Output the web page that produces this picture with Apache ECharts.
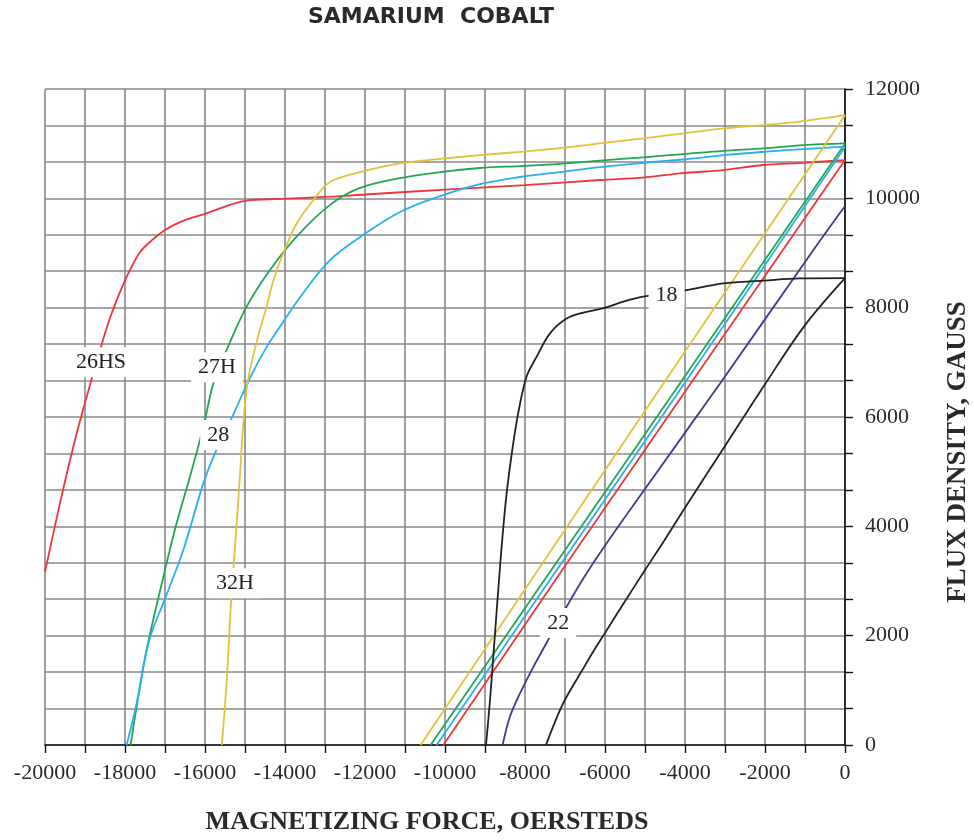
<!DOCTYPE html>
<html>
<head>
<meta charset="utf-8">
<script src="https://cdn.jsdelivr.net/npm/echarts@6/dist/echarts.min.js"></script>
<style>
  html, body { margin: 0; padding: 0; background: #fff; }
  #chart { width: 974px; height: 840px; }
</style>
</head>
<body>
<div id="chart"></div>
<script>
// Demagnetization curves for samarium cobalt grades, [H (Oe), B (G)].
// Intrinsic curves (upper, knee-shaped)
const grade26HS_intrinsic = [[-20000,3165],[-19625,4425],[-19250,5580],[-18875,6585],[-18625,7225],[-18375,7810],[-18125,8285],[-17875,8690],[-17625,9015],[-17325,9235],[-17000,9420],[-16625,9565],[-15950,9730],[-15375,9880],[-14960,9960],[-14125,9990],[-12875,10030],[-12000,10070],[-10000,10160],[-8000,10240],[-6125,10335],[-5050,10380],[-4050,10460],[-3050,10517],[-2050,10610],[-1050,10650],[0,10700]];
const grade27H_intrinsic = [[-17860,0],[-17710,700],[-17460,1740],[-17040,3080],[-16710,4055],[-16375,4910],[-16040,5820],[-15790,6615],[-15460,7225],[-14960,8020],[-14375,8690],[-13710,9300],[-12875,9880],[-12125,10190],[-11125,10370],[-10125,10480],[-9125,10555],[-8125,10590],[-7125,10630],[-6125,10690],[-5040,10750],[-4040,10810],[-3040,10870],[-2040,10915],[-1040,10975],[0,11005]];
const grade28_intrinsic = [[-17960,0],[-17710,760],[-17400,1900],[-16960,2750],[-16540,3570],[-16040,4790],[-15750,5335],[-15375,5910],[-14875,6715],[-14475,7260],[-14050,7735],[-13550,8265],[-12875,8870],[-12125,9290],[-11125,9750],[-10125,10040],[-9125,10260],[-8125,10390],[-7125,10480],[-6125,10570],[-5040,10650],[-4040,10710],[-3040,10790],[-2040,10850],[-1040,10900],[0,10945]];
const grade32H_intrinsic = [[-15580,0],[-15460,1130],[-15350,2600],[-15280,3320],[-15150,4660],[-15030,6000],[-14920,6700],[-14700,7400],[-14460,8020],[-14290,8500],[-14040,9000],[-13710,9540],[-13290,9970],[-12875,10300],[-12125,10480],[-11125,10640],[-10125,10720],[-9125,10790],[-8125,10850],[-7125,10920],[-6125,11005],[-5040,11097],[-4040,11188],[-3040,11280],[-2040,11340],[-1375,11383],[0,11523]];
const grade18_intrinsic = [[-8975,0],[-8875,820],[-8750,2040],[-8625,3260],[-8540,4000],[-8460,4600],[-8330,5335],[-8170,6070],[-7960,6740],[-7710,7100],[-7375,7530],[-6960,7800],[-6540,7910],[-6040,7990],[-5540,8110],[-5040,8200],[-3960,8320],[-3040,8445],[-2040,8495],[-1125,8535],[0,8540]];

// Normal curves (lower, nearly straight)
const grade26HS_normal = [[-10040,0],[-6958,3320],[0,10700]];
const grade27H_normal = [[-10360,0],[-4042,6706],[0,11000]];
const grade28_normal = [[-10210,0],[-4540,6050],[0,10940]];
const grade32H_normal = [[-10610,0],[-5042,6067],[0,11520]];
const grade22_normal = [[-8560,0],[-8375,520],[-8125,945],[-7790,1430],[-7460,1870],[-6960,2530],[-6460,3140],[-5960,3690],[-5375,4300],[-3040,6700],[-790,9055],[0,9860]];
const grade18_normal = [[-7475,0],[-7300,330],[-7100,680],[-6900,960],[-6600,1330],[-6300,1700],[-6000,2050],[-5500,2630],[-5000,3200],[-4500,3760],[-4000,4340],[-3000,5470],[-2000,6600],[-1000,7680],[0,8540]];

// Grade names and where each name sits along its curve, [H, B]
const gradeNames = ['26HS', '27H', '28', '32H', '22', '18'];
const nameAnchors = [[-18600,7000],[-15700,6910],[-15670,5670],[-15250,2960],[-7170,2230],[-4460,8230]];

const colors = {
  '26HS': '#f0343a',
  '27H': '#22a650',
  '28': '#28b0ee',
  '32H': '#e3c23a',
  '22': '#3c3c98',
  '18': '#222222'
};

const curves = [
  { grade: '26HS', data: grade26HS_intrinsic, named: true },
  { grade: '26HS', data: grade26HS_normal },
  { grade: '27H', data: grade27H_intrinsic, named: true },
  { grade: '27H', data: grade27H_normal },
  { grade: '28', data: grade28_intrinsic, named: true },
  { grade: '28', data: grade28_normal },
  { grade: '32H', data: grade32H_intrinsic, named: true },
  { grade: '32H', data: grade32H_normal },
  { grade: '22', data: grade22_normal, named: true },
  { grade: '18', data: grade18_intrinsic, named: true },
  { grade: '18', data: grade18_normal }
];

const serif = '"Liberation Serif", "Times New Roman", serif';

const series = curves.map(c => {
  const s = {
    type: 'line',
    name: c.grade,
    data: c.data,
    smooth: 0.35,
    symbol: 'none',
    lineStyle: { color: colors[c.grade], width: 1.8 },
    itemStyle: { color: colors[c.grade] },
    silent: true,
    z: 3
  };
  if (c.named) {
    const i = gradeNames.indexOf(c.grade);
    s.markPoint = {
      silent: true,
      symbol: 'rect',
      symbolSize: 1,
      itemStyle: { color: 'rgba(0,0,0,0)' },
      label: {
        show: true,
        position: 'inside',
        formatter: c.grade,
        fontFamily: serif,
        fontSize: 22,
        color: '#222',
        backgroundColor: '#fff',
        padding: [4, 7, 4, 7]
      },
      data: [{ coord: nameAnchors[i], name: c.grade }]
    };
  }
  return s;
});

const gridLine = { show: true, lineStyle: { color: '#888888', width: 1.6 } };
const plainNumber = v => String(Math.round(v));

const chart = echarts.init(document.getElementById('chart'));
chart.setOption({
  animation: false,
  backgroundColor: '#fff',
  grid: { left: 45, right: 129, top: 89, bottom: 95, containLabel: false },
  xAxis: {
    type: 'value',
    min: -20000,
    max: 0,
    interval: 2000,
    axisLine: { show: true, onZero: false, lineStyle: { color: '#111', width: 1.6 } },
    axisTick: { show: true, inside: false, length: 8, lineStyle: { color: '#111', width: 1.4 } },
    minorTick: { show: true, splitNumber: 2, length: 8, lineStyle: { color: '#111', width: 1.4 } },
    splitLine: gridLine,
    minorSplitLine: gridLine,
    axisLabel: { margin: 17, fontFamily: serif, fontSize: 22, color: '#2a2a2a', formatter: plainNumber }
  },
  yAxis: {
    type: 'value',
    position: 'right',
    min: 0,
    max: 12000,
    interval: 2000,
    axisLine: { show: true, onZero: false, lineStyle: { color: '#111', width: 1.6 } },
    axisTick: { show: true, inside: false, length: 8, lineStyle: { color: '#111', width: 1.4 } },
    minorTick: { show: true, splitNumber: 3, length: 8, lineStyle: { color: '#111', width: 1.4 } },
    splitLine: gridLine,
    minorSplitLine: gridLine,
    axisLabel: { margin: 20, fontFamily: serif, fontSize: 22, color: '#2a2a2a', formatter: plainNumber }
  },
  series: series,
  graphic: [
    {
      type: 'text', x: 431, y: 17,
      style: {
        text: 'SAMARIUM  COBALT',
        textAlign: 'center', textVerticalAlign: 'middle',
        font: 'bold 22px "DejaVu Sans", Verdana, sans-serif',
        fill: '#2a2a2a'
      }
    },
    {
      type: 'text', x: 427, y: 822,
      style: {
        text: 'MAGNETIZING FORCE, OERSTEDS',
        textAlign: 'center', textVerticalAlign: 'middle',
        font: 'bold 26px "Liberation Serif", "Times New Roman", serif',
        fill: '#2a2a2a'
      }
    },
    {
      type: 'text', x: 958, y: 452, rotation: Math.PI / 2,
      style: {
        text: 'FLUX DENSITY, GAUSS',
        textAlign: 'center', textVerticalAlign: 'middle',
        font: 'bold 27px "Liberation Serif", "Times New Roman", serif',
        fill: '#2a2a2a'
      }
    }
  ]
});
</script>
</body>
</html>
